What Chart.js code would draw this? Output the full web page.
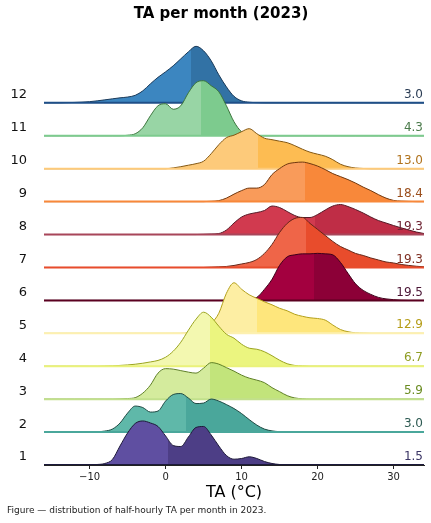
<!DOCTYPE html>
<html><head><meta charset="utf-8">
<script src="https://cdn.jsdelivr.net/npm/chart.js@4.4.1/dist/chart.umd.min.js"></script>
<style>html,body{margin:0;padding:0;background:#fff}canvas{display:block}</style>
</head><body>
<canvas id="c" width="431" height="523"></canvas>
<script>
const TITLE = 'TA per month (2023)';
const X_TITLE = 'TA (°C)';
const CAPTION = 'Figure — distribution of half-hourly TA per month in 2023.';
const MONTHS = ['1','2','3','4','5','6','7','8','9','10','11','12'];
const X_TICKS = [-10, 0, 10, 20, 30];
const X_RANGE = [-16, 34];
const TEMPS = [-16,-15,-14,-13,-12,-11,-10,-9,-8,-7,-6,-5,-4,-3,-2,-1,0,1,2,3,4,5,6,7,8,9,10,11,12,13,14,15,16,17,18,19,20,21,22,23,24,25,26,27,28,29,30,31,32,33,34];

// relative density per month, sampled at TEMPS
const D1  = [0,0,0,0,0,0,0.2,0.5,1.5,5.5,19,32,41.5,44,42,38.5,29,19.5,18.5,28,37.5,38.5,30,19,9.5,5.8,6.5,8.2,6.5,3.5,1.5,0.5,0.2,0,0,0,0,0,0,0,0,0,0,0,0,0,0,0,0,0,0];
const D2  = [0,0,0,0,0,0,0,0.3,1,3,9,19,26,24.5,20,21,31,37.5,38.5,34,28.5,29,33,31,27.5,23.5,18.5,12.5,7,3,1.2,0.4,0,0,0,0,0,0,0,0,0,0,0,0,0,0,0,0,0,0,0];
const D3  = [0,0,0,0,0,0,0,0,0,0,0.2,0.6,1.5,6,14,26,30.5,30,28.5,27,26,31,36.5,35,31.5,28,24,21,19,16.5,11.5,7.5,3.5,1.2,0.4,0,0,0,0,0,0,0,0,0,0,0,0,0,0,0,0];
const D4  = [0,0,0,0,0,0,0,0,0.2,0.4,0.8,1.3,2,3,4.3,5.8,9,15,24,36,47,54,49,40,32,28,22,18,17,14.5,10.5,6,2.5,0.8,0.3,0,0,0,0,0,0,0,0,0,0,0,0,0,0,0,0];
const D5  = [0,0,0,0,0,0,0,0,0,0,0,0,0,0,0,0,0,0,0,0.7,2,5,10,20,40,50.5,44,38.5,35,31.5,28.5,25,22.5,19,17,15.5,14.8,13.2,8.3,3.8,1.6,0.5,0.2,0,0,0,0,0,0,0,0];
const D6  = [0,0,0,0,0,0,0,0,0,0,0,0,0,0,0,0,0,0,0,0,0,0,0,0,0,0.3,0.8,1.5,3,11,21,35,43.5,45.5,46.5,46.5,47,46.5,45.5,38,27,16.5,10,6,3,1.5,0.7,0.2,0,0,0];
const D7  = [0,0,0,0,0,0,0,0,0,0,0,0,0,0,0,0,0,0,0,0,0,0,0.3,0.6,1,2,3.5,5,8,14,23,35,44,49,50,44,38,32,26,21,17.5,14,12,9.5,7.5,5.5,4.5,3,2,1.2,0.6];
const D8  = [0,0,0,0,0,0,0,0,0,0,0,0,0,0,0,0,0,0,0,0,0,0.2,0.5,1,4.5,11.5,17.5,20.5,22,24,28.5,27,23,19,17,17,20,24.5,28.5,30,28,25,21.5,17.5,14,11.5,9,6.7,4.5,2.5,1];
const D9  = [0,0,0,0,0,0,0,0,0,0,0,0,0,0,0,0,0,0,0,0,0,0,0.3,1,3.5,7.5,11,13.5,13.5,17,27,33,37.5,39,39.5,38,35.5,32,28,25,22,18.5,14.5,11,7,3.5,1.2,0.5,0.2,0,0];
const D10 = [0,0,0,0,0,0,0,0,0,0,0,0,0,0,0,0,0,0.8,2,3.5,5,7.5,15,24,31,33.5,37,40,35,30.5,29,27.5,26,23,19.5,16.5,14.5,12.5,9,4.5,2,0.7,0.2,0,0,0,0,0,0,0,0];
const D11 = [0,0,0,0,0,0,0,0,0,0,0,0.5,2,8,20,30,32,26.5,30,43,53,55,50,44,30,14,4,1.5,0.3,0,0,0,0,0,0,0,0,0,0,0,0,0,0,0,0,0,0,0,0,0,0];
const D12 = [0,0,0,0.2,0.4,0.7,1.2,2,3,4,5,5.8,7.5,12,19,25.5,31,37,44,51,56.5,52,42,28,16,6.5,2,0.6,0.2,0,0,0,0,0,0,0,0,0,0,0,0,0,0,0,0,0,0,0,0,0,0];
const DENSITIES = [D1,D2,D3,D4,D5,D6,D7,D8,D9,D10,D11,D12];

// where each ridge's fill changes shade, and the value printed at the right
const SPLITS = [0.3, 2.7, 5.9, 5.9, 12.0, 19.5, 18.5, 19.7, 18.3, 12.2, 4.6, 3.4];
const MEDIAN_LABELS = ['1.5','3.0','5.9','6.7','12.9','19.5','19.3','19.3','18.4','13.0','4.3','3.0'];

const ROW_UNIT = 32.9;   // density units per ridge row
const LABEL_LIFT = 0.24;

const LIGHT = ['#5f4fa1','#5fb8a9','#d4eb9d','#f3f8b0','#fdeea3','#a3003f','#ef6548','#d13a4f','#f99b5a','#fdca7a','#98d5a5','#3c86c0'];
const DARK  = ['#4d3e86','#4aa79b','#c2e47b','#ebf57f','#fee67c','#8c0037','#e84c2c','#bf2d46','#f8883a','#fdbc52','#7dcb8e','#3272a5'];
const EDGE  = ['#1d1838','#1f4a43','#5e7f25','#9aa31d','#b3a01c','#3d0019','#652516','#561a26','#70380f','#835610','#3b753c','#1b3a59'];
const BASE  = ['#1c1a3c','#4aa79b','#c2e08c','#eaf27a','#fdf0b0','#5a0020','#e84c2c','#a8465a','#f8883a','#fdca7a','#7dcb8e','#1f4f88'];
const LABEL = ['#3b3565','#2d5a52','#6b8c22','#8f9d22','#b59d18','#4a1535','#7e2f22','#6e2333','#9a4e1c','#b0721c','#4b7b4b','#2b3d55'];

function splitFill(chart, i) {
  const a = chart.chartArea, xs = chart.scales && chart.scales.x;
  if (!a || !xs) return LIGHT[i];
  const g = chart.ctx.createLinearGradient(a.left, 0, a.right, 0);
  let t = (xs.getPixelForValue(SPLITS[i]) - a.left) / (a.right - a.left);
  t = Math.min(1, Math.max(0, t));
  g.addColorStop(0, LIGHT[i]); g.addColorStop(t, LIGHT[i]);
  g.addColorStop(t, DARK[i]); g.addColorStop(1, DARK[i]);
  return g;
}

const datasets = [];
MONTHS.forEach((m, i) => {
  datasets.push({
    type: 'line', label: 'Month ' + m,
    data: TEMPS.map((t, j) => ({ x: t, y: i + DENSITIES[i][j] / ROW_UNIT })),
    borderColor: EDGE[i], borderWidth: 1,
    backgroundColor: (ctx) => splitFill(ctx.chart, i),
    fill: { value: i },
    pointRadius: 0, pointHoverRadius: 0,
    cubicInterpolationMode: 'monotone',
    order: 2 * (i + 1)
  });
  datasets.push({
    type: 'line', label: 'Baseline ' + m,
    data: X_RANGE.map(x => ({ x: x, y: i })),
    borderColor: BASE[i], borderWidth: 2,
    pointRadius: 0, fill: false,
    order: 2 * (i + 1) - 1
  });
});

const textPlugin = {
  id: 'texts',
  afterDraw(chart) {
    const { ctx, chartArea: a, scales } = chart;
    const y = scales.y;
    ctx.save();
    ctx.textBaseline = 'middle';
    ctx.fillStyle = '#000';
    ctx.textAlign = 'center';
    ctx.font = 'bold 15px "DejaVu Sans"';
    ctx.fillText(TITLE, 221, 14);
    ctx.font = '16px "DejaVu Sans"';
    ctx.fillText(X_TITLE, (a.left + a.right) / 2, 493);
    ctx.textAlign = 'left';
    ctx.fillStyle = '#222';
    ctx.font = '9px "DejaVu Sans"';
    ctx.fillText(CAPTION, 7, 511);
    ctx.textAlign = 'right';
    ctx.font = '12px "DejaVu Sans"';
    MONTHS.forEach((m, i) => {
      ctx.fillStyle = LABEL[i];
      ctx.fillText(MEDIAN_LABELS[i], a.right - 1, y.getPixelForValue(i) - 8);
    });
    ctx.restore();
  }
};

new Chart(document.getElementById('c'), {
  type: 'line',
  data: { datasets: datasets },
  options: {
    responsive: false,
    animation: false,
    events: [],
    layout: { padding: { top: 37, right: 7, bottom: 0, left: 0 } },
    plugins: { legend: { display: false }, tooltip: { enabled: false }, title: { display: false } },
    scales: {
      x: {
        type: 'linear', min: X_RANGE[0], max: X_RANGE[1],
        afterBuildTicks: (s) => { s.ticks = X_TICKS.map(v => ({ value: v })); },
        afterFit: (s) => { s.height = 58; },
        grid: { display: true, drawOnChartArea: false, drawTicks: true, tickLength: 4, color: '#222' },
        border: { display: true, color: '#222' },
        ticks: {
          font: { family: 'DejaVu Sans', size: 10 }, color: '#222', padding: 2,
          autoSkip: false, maxRotation: 0,
          callback: (v) => String(v).replace('-', '\u2212')
        }
      },
      y: {
        type: 'linear', min: 0, max: 13,
        afterBuildTicks: (s) => { s.ticks = MONTHS.map((m, i) => ({ value: i + LABEL_LIFT })); },
        afterFit: (s) => { s.width = 44; },
        grid: { display: false }, border: { display: false },
        ticks: {
          font: { family: 'DejaVu Sans', size: 13 }, color: '#111', padding: 9,
          autoSkip: false,
          callback: (v, idx) => MONTHS[idx]
        }
      }
    }
  },
  plugins: [textPlugin]
});
</script>
</body></html>
